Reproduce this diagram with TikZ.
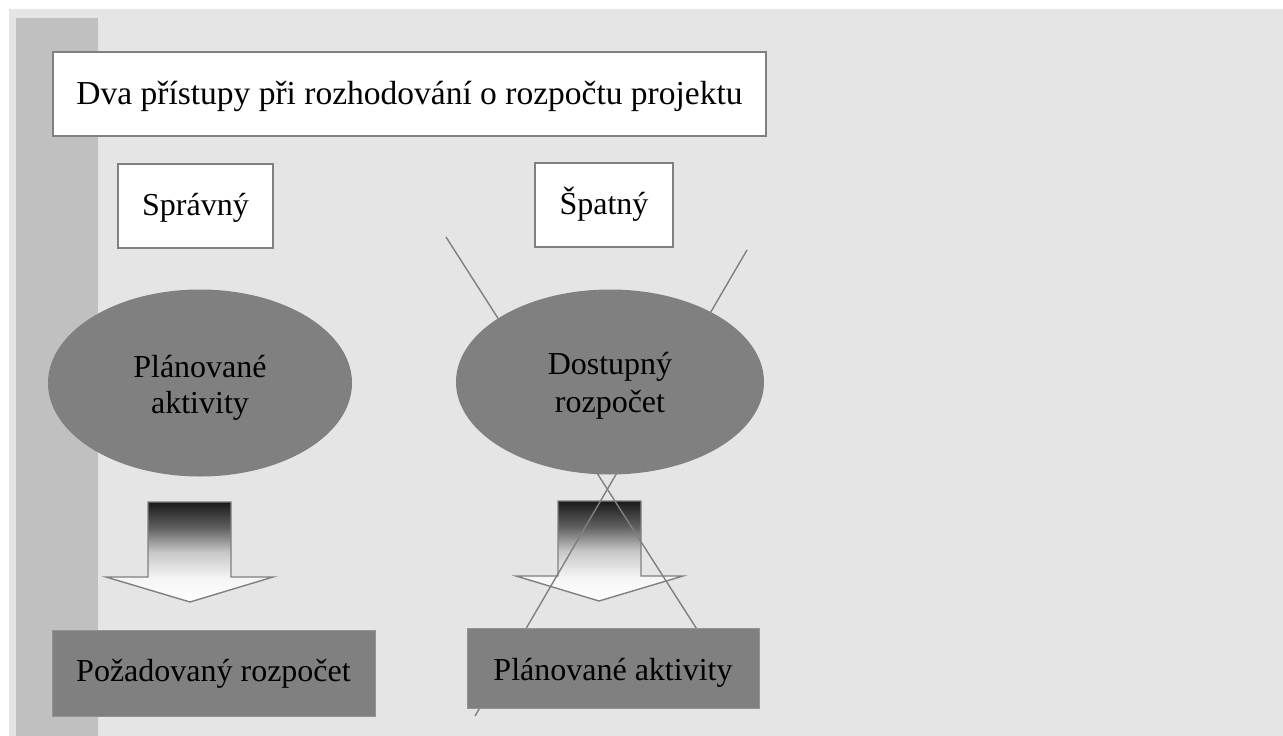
\documentclass[tikz,border=0pt]{standalone}
\usepackage{fontspec}
\setmainfont{Liberation Serif}
\usetikzlibrary{shapes.geometric}
\definecolor{bgl}{HTML}{E5E5E5}
\definecolor{barc}{HTML}{C0C0C0}
\definecolor{midg}{HTML}{808080}
\pgfdeclareverticalshading{arrowshade}{100bp}{color(0bp)=(white); color(25bp)=(white); color(37bp)=(white!96!black); color(50bp)=(white!78!black); color(62bp)=(black!62); color(75bp)=(black!90); color(100bp)=(black!90)}
\tikzset{
  txt/.style={font=\fontsize{32}{37}\selectfont, text=black, align=center, inner sep=0pt},
  wbox/.style={txt, draw=midg, line width=1.3pt, fill=white},
  gbox/.style={txt, fill=midg, draw=midg!85!white, line width=0.6pt},
  gell/.style={ellipse, fill=midg, draw=none, inner sep=0pt},
  etxt/.style={txt, anchor=base},
  cross/.style={draw=midg, line width=1.4pt},
  bigarrow/.style={draw=midg, line width=1.4pt, shading=arrowshade, line join=miter}
}
\begin{document}
\begin{tikzpicture}[x=1pt, y=-1pt]
\useasboundingbox (0,0) rectangle (1283,736);
\fill[white] (0,0) rectangle (1283,736);
\fill[bgl] (9,9) rectangle (1283,736);
\fill[barc] (16,18) rectangle (98,736);
% title and labels
\node[wbox, font=\fontsize{33.5}{38}\selectfont, minimum width=713pt, minimum height=84pt, text height=23pt, text depth=2pt] (title) at (409.5,94) {Dva přístupy při rozhodování o rozpočtu projektu};
\node[wbox, minimum width=155pt, minimum height=84pt, text height=22pt, text depth=4pt] (good) at (195.5,206) {Správný};
\node[wbox, minimum width=138pt, minimum height=84pt, text height=22pt, text depth=4pt] (bad) at (604,205) {Špatný};
% arrows
\path[bigarrow] (148,502) -- (231,502) -- (231,577) -- (273,577) -- (190,602) -- (106,577) -- (148,577) -- cycle;
\path[bigarrow] (558,501) -- (641,501) -- (641,576) -- (683,576) -- (599,601) -- (516,576) -- (558,576) -- cycle;
% crossing lines
\coordinate (l1a) at (446,237);
\coordinate (l1b) at (700,634);
\coordinate (l2a) at (747,250);
\coordinate (l2b) at (475,716);
\draw[cross] (l1a) -- (l1b);
\draw[cross] (l2a) -- (l2b);
% ellipses
\node[gell, minimum width=304pt, minimum height=187pt] (e1) at (200,383) {};
\node[etxt] (e1a) at (200,377) {Plánované};
\node[etxt] (e1b) at (200,413) {aktivity};
\node[gell, minimum width=308pt, minimum height=185pt] (e2) at (610,382) {};
\node[etxt] (e2a) at (610,374) {Dostupný};
\node[etxt] (e2b) at (610,412) {rozpočet};
% result boxes
\node[gbox, minimum width=323pt, minimum height=86pt, text height=22pt, text depth=4.5pt] (r1) at (213.5,673) {Požadovaný rozpočet};
\node[gbox, minimum width=292pt, minimum height=80pt, text height=26pt, text depth=2pt] (r2) at (613,668) {Plánované aktivity};
\end{tikzpicture}
\end{document}
